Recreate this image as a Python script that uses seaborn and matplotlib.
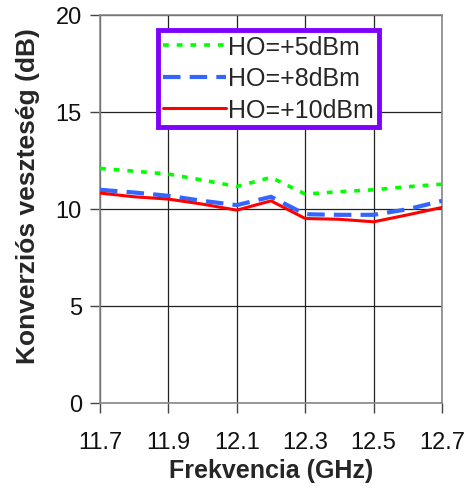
import matplotlib
matplotlib.use("Agg")
import matplotlib.pyplot as plt
import seaborn as sns
import pandas as pd

freq = [11.7, 11.8, 11.9, 12.0, 12.1, 12.2, 12.3, 12.4, 12.5, 12.6, 12.7]
ho5 = [12.09, 11.95, 11.80, 11.49, 11.16, 11.63, 10.77, 10.89, 10.99, 11.15, 11.28]
ho8 = [10.99, 10.85, 10.68, 10.42, 10.20, 10.63, 9.73, 9.70, 9.70, 9.99, 10.42]
ho10 = [10.82, 10.63, 10.51, 10.25, 9.94, 10.42, 9.51, 9.47, 9.34, 9.70, 10.08]
labels = ["HO=+5dBm", "HO=+8dBm", "HO=+10dBm"]
xticks = [11.7, 11.9, 12.1, 12.3, 12.5, 12.7]
yticks = [0, 5, 10, 15, 20]

sns.set_style("white")
plt.rcParams['font.family'] = ['Liberation Sans', 'DejaVu Sans']

fig = plt.figure(figsize=(4.72, 4.89), dpi=100)
ax = fig.add_axes([100/472, 85/489, 342/472, 388/489])

df = pd.DataFrame({"f": freq * 3,
                   "v": ho5 + ho8 + ho10,
                   "s": [labels[0]] * len(freq) + [labels[1]] * len(freq) + [labels[2]] * len(freq)})

colors = ["#00FF00", "#3366FF", "#FF0000"]
styles = [(0, (1.6, 2.2)), (0, (4.2, 2.2)), "-"]
widths = [2.6, 3.0, 2.2]
for lab, c, ls, lw in zip(labels, colors, styles, widths):
    sub = df[df.s == lab]
    sns.lineplot(data=sub, x="f", y="v", ax=ax, color=c, linewidth=lw,
                 linestyle=ls, label=lab, zorder=3)

ax.set_xlim(11.7, 12.7)
ax.set_ylim(0, 20)
ax.set_xticks(xticks)
ax.set_xticklabels([f"{t:.1f}" for t in xticks])
ax.set_yticks(yticks)
ax.grid(True, color="#222222", linewidth=0.9)
for sp in ax.spines.values():
    sp.set_color("#888888")
    sp.set_linewidth(1.2)
ax.tick_params(axis="both", which="major", length=7, width=1, color="#444444",
               labelsize=17, pad=6, direction="out", bottom=True, left=True,
               labelcolor="#111111")
ax.tick_params(axis="x", pad=13)
ax.set_xlabel("Frekvencia (GHz)", fontsize=18, fontweight="bold", labelpad=4)
ax.set_ylabel("Konverziós veszteség (dB)", fontsize=19, fontweight="bold")
ax.yaxis.set_label_coords(-0.175, 0.535)

leg = ax.legend(loc="upper left", bbox_to_anchor=(58/342, (405-32)/388), fontsize=18,
                frameon=True, fancybox=False, framealpha=1, handlelength=2.5,
                handletextpad=0.1, borderpad=0.2, labelspacing=0.3, borderaxespad=0)
leg.get_frame().set_edgecolor("#7F00FF")
leg.get_frame().set_linewidth(3.5)

fig.savefig("out.png", dpi=100)
